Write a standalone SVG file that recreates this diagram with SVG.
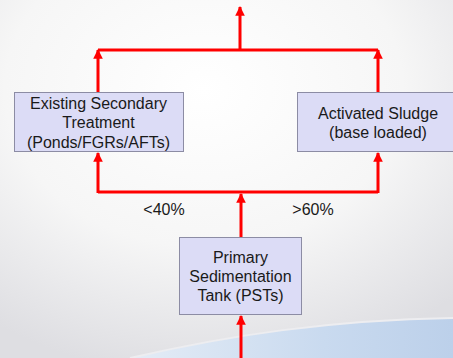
<svg xmlns="http://www.w3.org/2000/svg" width="453" height="358" viewBox="0 0 453 358">
<defs>
<radialGradient id="bg" cx="0.45" cy="0.25" r="0.8">
<stop offset="0" stop-color="#ffffff"/>
<stop offset="0.55" stop-color="#f6f6f6"/>
<stop offset="1" stop-color="#dedee2"/>
</radialGradient>
<linearGradient id="wave" x1="0" y1="0" x2="1" y2="0">
<stop offset="0" stop-color="#e4ecf6"/>
<stop offset="0.6" stop-color="#c9daef"/>
<stop offset="1" stop-color="#bcd0ea"/>
</linearGradient>
<marker id="ah" viewBox="0 0 10 10" refX="9" refY="5" markerWidth="3.2" markerHeight="3.2" orient="auto" markerUnits="strokeWidth">
<path d="M0,0 L10,5 L0,10 z" fill="#ff0000"/>
</marker>
<style>
.box{fill:#dcdcf6;stroke:#8c8ca4;stroke-width:1}
.t{font-family:"Liberation Sans",Arial,sans-serif;font-size:16px;fill:#1a1a1a;text-anchor:middle}
.c{fill:none;stroke:#ff0000;stroke-width:3}
</style>
</defs>
<rect width="453" height="358" fill="url(#bg)"/>
<path d="M130,358 C230,335 330,320 453,318 L453,358 Z" fill="url(#wave)"/>
<path d="M130,358 C230,335 330,320 453,318" fill="none" stroke="#ededf0" stroke-width="2"/>
<g id="connectors">
<line class="c" x1="241" y1="358" x2="241" y2="316" marker-end="url(#ah)"/>
<line class="c" x1="241" y1="237" x2="241" y2="194" marker-end="url(#ah)"/>
<polyline class="c" points="98,192 378,192"/>
<line class="c" x1="98" y1="193" x2="98" y2="153" marker-end="url(#ah)"/>
<line class="c" x1="378" y1="193" x2="378" y2="153" marker-end="url(#ah)"/>
<line class="c" x1="98" y1="92" x2="98" y2="50" marker-end="url(#ah)"/>
<line class="c" x1="378" y1="92" x2="378" y2="50" marker-end="url(#ah)"/>
<polyline class="c" points="98,50 378,50"/>
<line class="c" x1="240" y1="50" x2="240" y2="7" marker-end="url(#ah)"/>
<text class="t" x="164" y="214.5">&lt;40%</text>
<text class="t" x="313" y="214.5">&gt;60%</text>
</g>
<g id="existing">
<rect class="box" x="14.5" y="92.5" width="169" height="59"/>
<text class="t" x="98.5" y="108.5">Existing Secondary</text>
<text class="t" x="98.5" y="128">Treatment</text>
<text class="t" x="98.5" y="147.5">(Ponds/FGRs/AFTs)</text>
</g>
<g id="activated">
<rect class="box" x="297.5" y="92.5" width="162" height="59"/>
<text class="t" x="378" y="118.5">Activated Sludge</text>
<text class="t" x="378" y="138">(base loaded)</text>
</g>
<g id="pst">
<rect class="box" x="179.5" y="237.5" width="122" height="77"/>
<text class="t" x="240.5" y="262.5">Primary</text>
<text class="t" x="240.5" y="282">Sedimentation</text>
<text class="t" x="240.5" y="301">Tank (PSTs)</text>
</g>
</svg>
